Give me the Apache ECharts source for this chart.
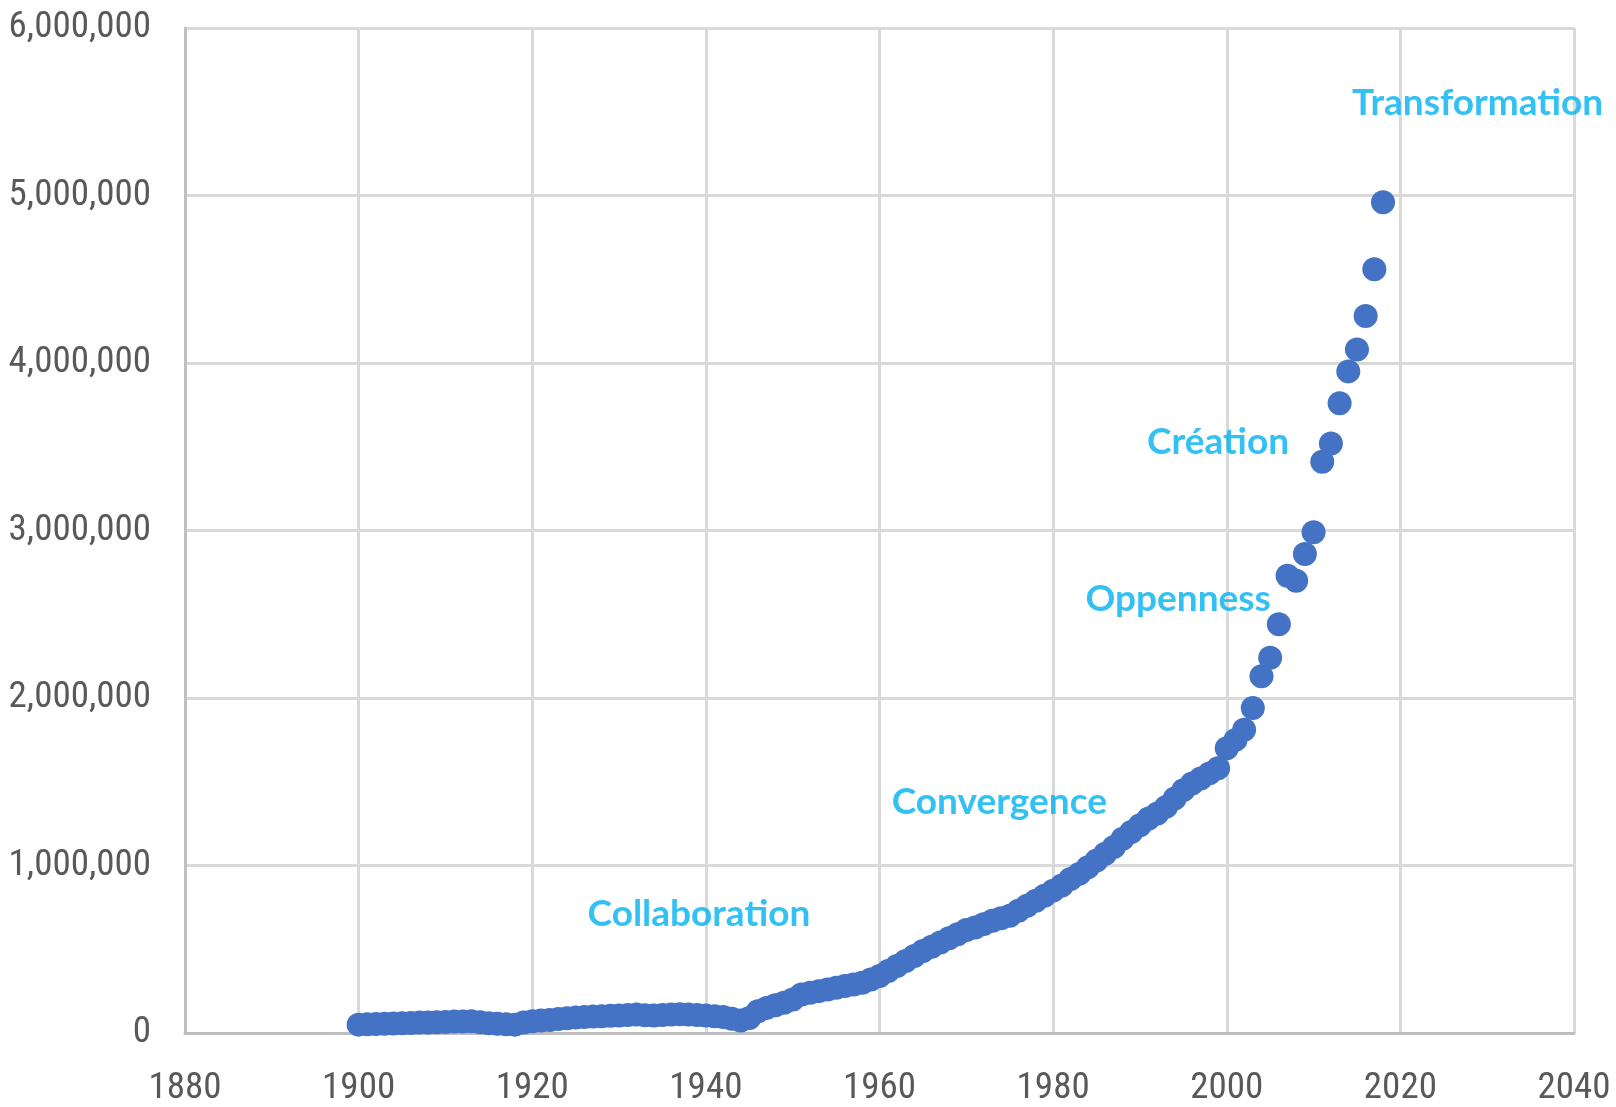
<!DOCTYPE html>
<html>
<head>
<meta charset="utf-8">
<title>Scatter 1900-2018</title>
<script src="https://cdn.jsdelivr.net/npm/echarts@6/dist/echarts.min.js"></script>
<style>
  html, body { margin: 0; padding: 0; background: #fff; }
  #chart { width: 1616px; height: 1107px; }
</style>
</head>
<body>
<div id="chart"></div>
<script>
// years on the x axis
var years = [
  1900, 1901, 1902, 1903, 1904, 1905, 1906, 1907, 1908, 1909,
  1910, 1911, 1912, 1913, 1914, 1915, 1916, 1917, 1918, 1919,
  1920, 1921, 1922, 1923, 1924, 1925, 1926, 1927, 1928, 1929,
  1930, 1931, 1932, 1933, 1934, 1935, 1936, 1937, 1938, 1939,
  1940, 1941, 1942, 1943, 1944, 1945, 1946, 1947, 1948, 1949,
  1950, 1951, 1952, 1953, 1954, 1955, 1956, 1957, 1958, 1959,
  1960, 1961, 1962, 1963, 1964, 1965, 1966, 1967, 1968, 1969,
  1970, 1971, 1972, 1973, 1974, 1975, 1976, 1977, 1978, 1979,
  1980, 1981, 1982, 1983, 1984, 1985, 1986, 1987, 1988, 1989,
  1990, 1991, 1992, 1993, 1994, 1995, 1996, 1997, 1998, 1999,
  2000, 2001, 2002, 2003, 2004, 2005, 2006, 2007, 2008, 2009,
  2010, 2011, 2012, 2013, 2014, 2015, 2016, 2017, 2018
]

// value for each year
var counts = [
  50000, 52000, 54000, 55000, 56000, 58000, 60000, 62000, 63000, 64000,
  66000, 68000, 69000, 70000, 64000, 58000, 55000, 52000, 50000, 62000,
  70000, 74000, 78000, 83000, 88000, 92000, 95000, 98000, 100000, 103000,
  105000, 107000, 110000, 106000, 105000, 108000, 110000, 112000, 110000, 108000,
  105000, 100000, 95000, 85000, 75000, 90000, 130000, 150000, 165000, 180000,
  200000, 230000, 240000, 250000, 260000, 270000, 280000, 290000, 300000, 320000,
  340000, 370000, 400000, 430000, 460000, 490000, 515000, 540000, 565000, 590000,
  615000, 630000, 650000, 670000, 685000, 700000, 730000, 760000, 790000, 820000,
  850000, 880000, 920000, 950000, 990000, 1030000, 1070000, 1110000, 1160000, 1200000,
  1240000, 1280000, 1310000, 1350000, 1400000, 1450000, 1490000, 1520000, 1550000, 1580000,
  1700000, 1750000, 1810000, 1940000, 2130000, 2240000, 2440000, 2730000, 2700000, 2860000,
  2990000, 3410000, 3520000, 3760000, 3950000, 4080000, 4280000, 4560000, 4960000
]

// phase annotations, anchored in data coordinates
var phaseNames = ['Collaboration', 'Convergence', 'Oppenness', 'Création', 'Transformation']
var phaseYears = [1939.2, 1973.8, 1994.4, 1999.0, 2028.9]
var phaseValues = [710000, 1380000, 2590000, 3530000, 5550000]

var xTicks = { min: 1880, max: 2040, step: 20 }
var yTicks = { min: 0, max: 6000000, step: 1000000 }

var chartDom = document.getElementById('chart')
var myChart = echarts.init(chartDom)

var points = years.map(function (y, i) { return [y, counts[i]] })
var phases = phaseNames.map(function (n, i) {
  return { name: n, value: [phaseYears[i], phaseValues[i]] }
})

// narrow fonts are tried first, the plain sans is the fallback
var axisFont = "'Liberation Sans Narrow', 'Roboto Condensed', 'Arial Narrow', 'Liberation Sans', Arial, sans-serif"

var option = {
  backgroundColor: '#ffffff',
  animation: false,
  grid: {
    left: 185,
    right: 42,
    top: 28,
    bottom: 74,
    containLabel: false,
    outerBoundsMode: 'none'
  },
  xAxis: {
    type: 'value',
    min: xTicks.min,
    max: xTicks.max,
    interval: xTicks.step,
    axisLine: { show: true, lineStyle: { color: '#bfbfbf', width: 3 } },
    axisTick: { show: false },
    axisLabel: {
      color: '#595959',
      fontSize: 37,
      fontFamily: axisFont,
      margin: 56,
      verticalAlign: 'middle',
      formatter: function (v) { return String(v) }
    },
    splitLine: { show: true, lineStyle: { color: '#d9d9d9', width: 3 } }
  },
  yAxis: {
    type: 'value',
    min: yTicks.min,
    max: yTicks.max,
    interval: yTicks.step,
    axisLine: { show: true, lineStyle: { color: '#bfbfbf', width: 3 } },
    axisTick: { show: false },
    axisLabel: {
      color: '#595959',
      fontSize: 37,
      fontFamily: axisFont,
      margin: 34,
      formatter: function (v) { return v.toLocaleString('en-US') }
    },
    splitLine: { show: true, lineStyle: { color: '#d9d9d9', width: 3 } }
  },
  series: [
    {
      name: 'count',
      type: 'scatter',
      data: points,
      symbol: 'circle',
      symbolSize: 24,
      itemStyle: { color: '#4472c4', opacity: 1 },
      z: 3
    },
    {
      name: 'phases',
      type: 'scatter',
      data: phases,
      symbolSize: 0,
      silent: true,
      z: 5,
      label: {
        show: true,
        position: 'inside',
        formatter: '{b}',
        color: '#00b0f0',
        fontSize: 37,
        fontWeight: 'bold',
        fontFamily: 'Lato, "Open Sans", sans-serif'
      }
    }
  ]
}
myChart.setOption(option)
</script>
</body>
</html>
